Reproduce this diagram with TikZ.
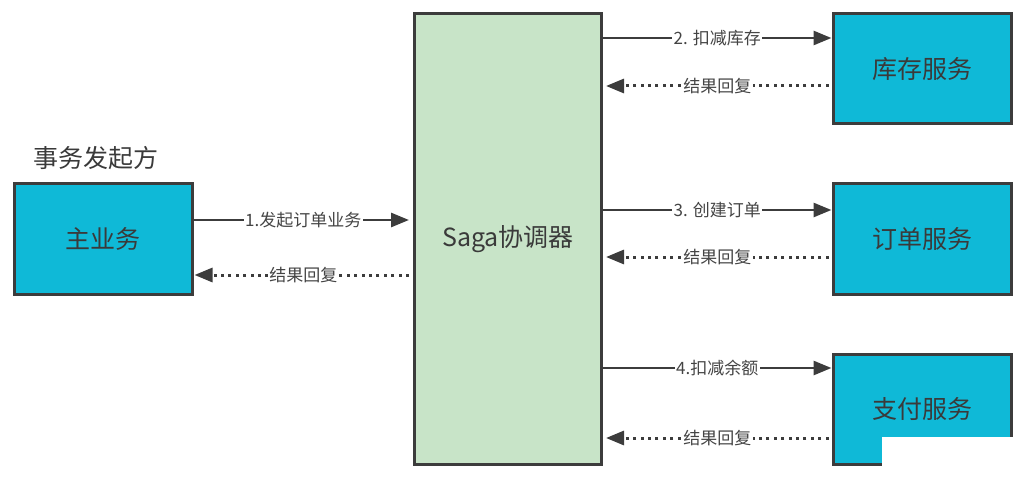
\documentclass[tikz,border=0pt]{standalone}
\usepackage{fontspec}
\setmainfont{Noto Sans CJK SC}
\usetikzlibrary{arrows.meta,positioning}
\definecolor{boxcyan}{HTML}{0FB9D7}
\definecolor{sagagreen}{HTML}{C8E4C8}
\definecolor{edgegray}{HTML}{3C3C3C}
\definecolor{txtgray}{HTML}{3A3A3A}
\definecolor{lbl}{HTML}{444444}
\tikzset{
  svc/.style={draw=edgegray, line width=3pt, fill=boxcyan, minimum width=178pt, minimum height=110pt, inner sep=0pt, font=\fontsize{25}{29}\selectfont, text=txtgray},
  sagabox/.style={draw=edgegray, line width=3pt, fill=sagagreen, minimum width=187pt, minimum height=450pt, inner sep=0pt, font=\fontsize{25}{29}\selectfont, text=txtgray},
  callarrow/.style={draw=edgegray, line width=2.8pt, -{Triangle[length=18pt,width=14pt]}},
  replyarrow/.style={draw=edgegray, line width=3pt, dash pattern=on 3pt off 4.4pt, -{Triangle[length=18pt,width=14pt]}},
  lab/.style={fill=white, inner sep=1.5pt, text=lbl, font=\fontsize{17}{19}\selectfont}
}
\begin{document}
\begin{tikzpicture}[x=1pt,y=-1pt]
\useasboundingbox (0,0) rectangle (1027,481);
\node[sagabox] (saga) at (508,239) {Saga协调器};
\node[svc] (zhu) at (103,239) {主业务};
\node[svc] (kc) at (922,69) {库存服务};
\node[svc] (dd) at (922,239) {订单服务};
\node[svc] (zf) at (922,409) {支付服务};
\node[text=txtgray, font=\fontsize{25}{29}\selectfont, anchor=west, inner sep=0pt] (title) at (33,158) {事务发起方};
% coordinates on the boxes
\coordinate (z1) at ([yshift=19pt]zhu.east);
\coordinate (z2) at ([yshift=-36pt]zhu.east);
\coordinate (k1) at ([yshift=31pt]kc.west);
\coordinate (k2) at ([yshift=-17pt]kc.west);
\coordinate (d1) at ([yshift=29pt]dd.west);
\coordinate (d2) at ([yshift=-18pt]dd.west);
\coordinate (f1) at ([yshift=41pt]zf.west);
\coordinate (f2) at ([yshift=-29pt]zf.west);
% left side
\draw[callarrow, shorten >=4pt] (z1) -- node[lab] {1.发起订单业务} (saga.west |- z1);
\draw[replyarrow, shorten <=4pt, shorten >=1pt] (saga.west |- z2) -- node[lab] {结果回复} (z2);
% right side
\draw[callarrow] (saga.east |- k1) -- node[lab] {2. 扣减库存} (k1);
\draw[replyarrow, shorten <=3pt, shorten >=3pt] (k2) -- node[lab] {结果回复} (saga.east |- k2);
\draw[callarrow] (saga.east |- d1) -- node[lab] {3. 创建订单} (d1);
\draw[replyarrow, shorten <=3pt, shorten >=3pt] (d2) -- node[lab] {结果回复} (saga.east |- d2);
\draw[callarrow] (saga.east |- f1) -- node[lab] {4.扣减余额} (f1);
\draw[replyarrow, shorten <=3pt, shorten >=3pt] (f2) -- node[lab] {结果回复} (saga.east |- f2);
% white patch over the lower right corner
\fill[white] (882,437) rectangle (1027,481);
\end{tikzpicture}
\end{document}
